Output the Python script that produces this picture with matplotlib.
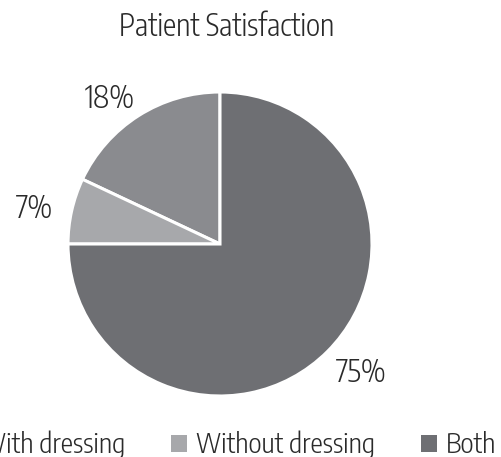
import numpy as np
import matplotlib.pyplot as plt

# data
categories = ["With dressing", "Without dressing", "Both"]
shares = [18, 7, 75]
colors = ["#8a8b8f", "#a7a8ab", "#6e6f73"]

plt.rcParams['font.family'] = ['Encode Sans Condensed', 'DejaVu Sans']
plt.rcParams['font.weight'] = 300
txt_color = '#2a2a2a'

W, H = 501, 457
fig = plt.figure(figsize=(W / 100, H / 100), dpi=100)

# pie centre (220, 244) px from top, radius 152 px
cx, cy, r = 220, H - 244, 152
ax = fig.add_axes([(cx - r) / W, (cy - r) / H, 2 * r / W, 2 * r / H])

wedges, _ = ax.pie(
    shares,
    colors=colors,
    startangle=90,
    counterclock=True,
    wedgeprops=dict(edgecolor='white', linewidth=2.2),
)
ax.set_xlim(-1, 1)
ax.set_ylim(-1, 1)

# percentage labels (baseline positions)
label_pos = [(-0.724, 0.895), (-1.224, 0.171), (0.928, -0.908)]
for val, (lx, ly) in zip(shares, label_pos):
    ax.text(lx, ly, f"{val}%", ha='center', va='baseline', fontsize=22,
            color=txt_color, clip_on=False)

fig.text(226.5 / W, 1 - 36 / H, "Patient Satisfaction", ha='center', va='baseline',
         fontsize=21.5, color=txt_color)

leg = fig.legend(wedges, categories, loc='center right', ncol=3,
                 bbox_to_anchor=(496 / W, 1 - 445 / H), frameon=False,
                 fontsize=20, handlelength=0.6, handleheight=0.6,
                 handletextpad=0.3, columnspacing=1.65, borderaxespad=0,
                 borderpad=0)
for t in leg.get_texts():
    t.set_color(txt_color)
for h in leg.legend_handles:
    h.set_edgecolor('none')

fig.savefig("out.png", dpi=100)
